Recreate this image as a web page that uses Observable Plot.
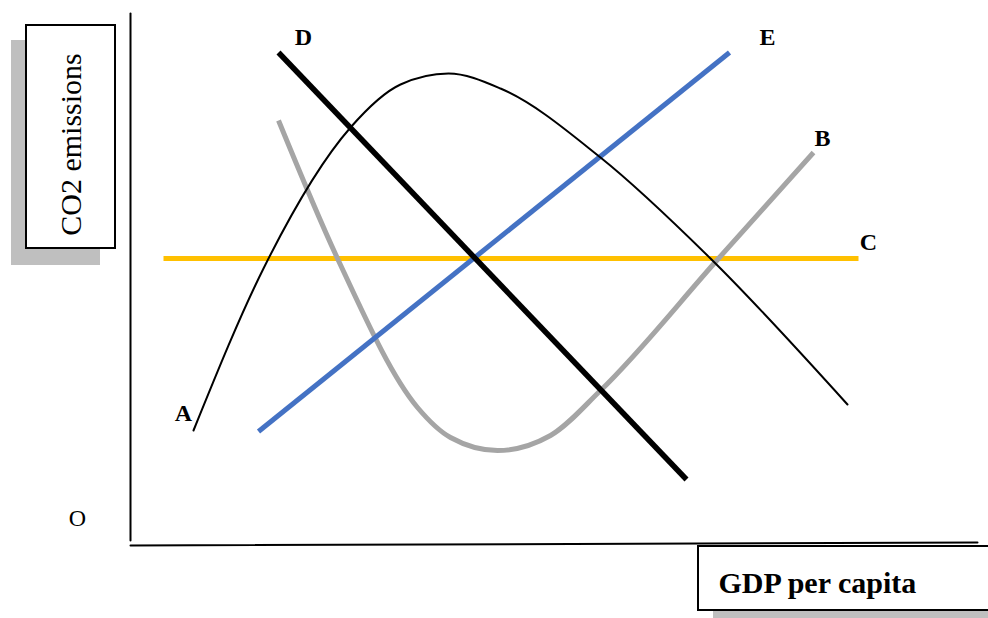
<!DOCTYPE html>
<html>
<head>
<meta charset="utf-8">
<script src="https://cdn.jsdelivr.net/npm/d3@7"></script>
<script src="https://cdn.jsdelivr.net/npm/@observablehq/plot@0.6"></script>
<style>
  html, body { margin: 0; padding: 0; background: #fff; }
  #chart svg { display: block; }
</style>
</head>
<body>
<div id="chart"></div>
<script>
// Values (x: GDP per capita units, y: CO2 emissions units; origin at the axes corner)
const curveA_gdp = [63, 133, 220, 270, 318, 370, 470, 580, 717];
const curveA_co2 = [115, 277, 418, 461, 472, 457, 388, 287, 141];

const curveB_gdp = [148, 207, 287, 320, 367, 420, 470, 588, 683];
const curveB_co2 = [425, 287, 138, 108, 95, 110, 155, 287, 393];

const lineC_gdp = [33, 728];
const lineC_co2 = [287, 287];

const lineD_gdp = [148, 556];
const lineD_co2 = [493, 66];

const lineE_gdp = [128, 599];
const lineE_co2 = [114, 493];

const curveNames = ["A", "B", "C", "D", "E"];
const labelGdp = [53, 692, 738, 173, 637];
const labelCo2 = [132, 407, 303, 508, 508];

const originLabel = "O";
const originGdp = -53;
const originCo2 = 27;

const xTitle = "GDP per capita";
const yTitle = "CO2 emissions";

const toPts = (xs, ys) => xs.map((x, i) => ({x, y: ys[i]}));

const A = toPts(curveA_gdp, curveA_co2);
const B = toPts(curveB_gdp, curveB_co2);
const C = toPts(lineC_gdp, lineC_co2);
const D = toPts(lineD_gdp, lineD_co2);
const E = toPts(lineE_gdp, lineE_co2);
const labels = curveNames.map((t, i) => ({t, x: labelGdp[i], y: labelCo2[i]}));

const serif = "Liberation Serif, Times New Roman, serif";

const chart = Plot.plot({
  width: 988,
  height: 618,
  margin: 0,
  x: {domain: [-130, 858], axis: null},
  y: {domain: [-73, 545], axis: null},
  marks: [
    // axes
    Plot.line([{x: 0, y: 5}, {x: 0, y: 532}], {x: "x", y: "y", stroke: "#000", strokeWidth: 2}),
    Plot.line([{x: 0, y: 0}, {x: 847, y: 3}], {x: "x", y: "y", stroke: "#000", strokeWidth: 2}),
    // y-title box with shadow
    Plot.rect([{}], {x1: -119, x2: -30, y1: 280, y2: 505, fill: "#bfbfbf"}),
    Plot.rect([{}], {x1: -104, x2: -15, y1: 297, y2: 520, fill: "#fff", stroke: "#000", strokeWidth: 2}),
    Plot.text([yTitle], {x: -59, y: 401, text: d => d, rotate: -90, fontSize: 30, fontFamily: serif, fill: "#000"}),
    // x-title box with shadow
    Plot.rect([{}], {x1: 583, x2: 880, y1: -80, y2: -16, fill: "#bfbfbf"}),
    Plot.rect([{}], {x1: 568, x2: 880, y1: -65, y2: -1, fill: "#fff", stroke: "#000", strokeWidth: 2}),
    Plot.text([xTitle], {x: 588, y: -38, text: d => d, textAnchor: "start", fontSize: 30, fontWeight: "bold", fontFamily: serif, fill: "#000"}),
    // curves
    Plot.line(C, {x: "x", y: "y", stroke: "#FFC000", strokeWidth: 5, strokeLinecap: "butt"}),
    Plot.line(B, {x: "x", y: "y", curve: "monotone-x", stroke: "#A5A5A5", strokeWidth: 5, strokeLinecap: "butt"}),
    Plot.line(E, {x: "x", y: "y", stroke: "#4472C4", strokeWidth: 5, strokeLinecap: "butt"}),
    Plot.line(D, {x: "x", y: "y", stroke: "#000", strokeWidth: 5.5, strokeLinecap: "butt"}),
    Plot.line(A, {x: "x", y: "y", curve: "monotone-x", stroke: "#000", strokeWidth: 2}),
    // letters
    Plot.text(labels, {x: "x", y: "y", text: "t", fontSize: 24, fontWeight: "bold", fontFamily: serif, fill: "#000"}),
    Plot.text([originLabel], {x: originGdp, y: originCo2, text: d => d, fontSize: 24, fontFamily: serif, fill: "#000"})
  ]
});
document.getElementById("chart").appendChild(chart);
</script>
</body>
</html>
